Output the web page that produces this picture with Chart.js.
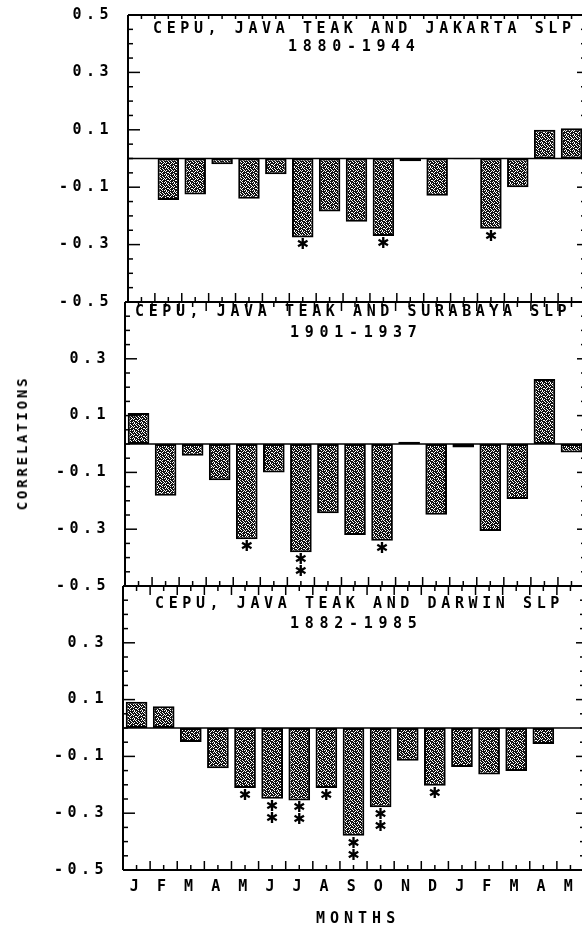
<!DOCTYPE html>
<html>
<head>
<meta charset="utf-8">
<script src="https://cdn.jsdelivr.net/npm/chart.js@4.4.1/dist/chart.umd.min.js"></script>
<style>
  html, body { margin: 0; padding: 0; background: #fff; }
  body { width: 582px; height: 929px; overflow: hidden; position: relative; }
  canvas { position: absolute; left: 0; top: 0; }
  .t { position: absolute; font: bold 15px "DejaVu Sans Mono"; letter-spacing: 4.6px;
       white-space: nowrap; line-height: 18px; color: #000; }
  .yr { letter-spacing: 5.7px; }
</style>
</head>
<body>
<canvas id="p1" width="590" height="929"></canvas>
<canvas id="p2" width="590" height="929"></canvas>
<canvas id="p3" width="590" height="929"></canvas>

<div class="t" style="left:153px;top:19px">CEPU, JAVA TEAK AND JAKARTA SLP</div>
<div class="t yr" style="left:288px;top:37px">1880-1944</div>
<div class="t" style="left:135px;top:302px">CEPU, JAVA TEAK AND SURABAYA SLP</div>
<div class="t yr" style="left:290px;top:323px">1901-1937</div>
<div class="t" style="left:155px;top:594px">CEPU, JAVA TEAK AND DARWIN SLP</div>
<div class="t yr" style="left:290px;top:614px">1882-1985</div>
<div class="t" style="left:316px;top:909px;letter-spacing:5px">MONTHS</div>
<div class="t" style="left:22px;top:443px;font-size:14px;letter-spacing:2.8px;transform:translate(-50%,-50%) rotate(-90deg)">CORRELATIONS</div>

<script>
// months Jan of one year to May of the next
const months = ['J','F','M','A','M','J','J','A','S','O','N','D','J','F','M','A','M'];

// correlations of Cepu teak with sea level pressure
const jakarta  = [0, -0.145, -0.125, -0.02, -0.14, -0.055, -0.275, -0.185, -0.22, -0.27, -0.01, -0.13, -0.003, -0.245, -0.10, 0.10, 0.105];
const surabaya = [0.109, -0.182, -0.041, -0.128, -0.335, -0.10, -0.381, -0.244, -0.32, -0.341, 0.008, -0.249, -0.012, -0.306, -0.194, 0.229, -0.03];
const darwin   = [0.092, 0.077, -0.049, -0.142, -0.211, -0.249, -0.255, -0.211, -0.379, -0.279, -0.115, -0.203, -0.137, -0.164, -0.151, -0.056, 0];

// number of significance asterisks under each bar
const starsJakarta  = [0,0,0,0,0,0,1,0,0,1,0,0,0,1,0,0,0];
const starsSurabaya = [0,0,0,0,1,0,2,0,0,1,0,0,0,0,0,0,0];
const starsDarwin   = [0,0,0,0,1,2,2,1,2,2,0,1,0,0,0,0,0];

// y tick labels shown on each panel
const labelsTop   = ['0.5', '0.3', '0.1', '-0.1', '-0.3', '-0.5'];
const labelsLower = ['0.3', '0.1', '-0.1', '-0.3', '-0.5'];

const H = 929, W = 590;
const mono = '"DejaVu Sans Mono", monospace';

// halftone fill like the old plotter shading
function shade(ctx) {
  const rows = [
    '11011010',
    '01101111',
    '10110101',
    '11101011',
    '01011110',
    '10111011',
    '11010101',
    '01111101'
  ];
  const c = document.createElement('canvas');
  c.width = 8; c.height = 8;
  const g = c.getContext('2d');
  g.fillStyle = '#fff'; g.fillRect(0, 0, 8, 8);
  g.fillStyle = '#111';
  rows.forEach((r, j) => [...r].forEach((b, i) => { if (b === '1') g.fillRect(i, j, 1, 1); }));
  return ctx.createPattern(c, 'repeat');
}

function seg(ctx, x1, y1, x2, y2) {
  ctx.beginPath(); ctx.moveTo(x1, y1); ctx.lineTo(x2, y2); ctx.stroke();
}

const frame = {
  id: 'frame',
  beforeDraw(chart) { chart.ctx.letterSpacing = '4.5px'; },
  afterDraw(chart, args, o) {
    const { ctx, chartArea: a, scales: { x, y } } = chart;
    ctx.save();
    ctx.letterSpacing = '0px';
    ctx.strokeStyle = '#000';
    ctx.lineWidth = 2;
    seg(ctx, a.left, a.top, a.left, a.bottom);
    seg(ctx, a.left, a.top, a.right, a.top);
    seg(ctx, a.left, a.bottom, a.right, a.bottom);

    // y ticks every 0.05, long at labelled values
    ctx.lineWidth = 1.5;
    for (let k = -10; k <= 10; k++) {
      const py = y.getPixelForValue(k / 20);
      const major = Math.abs(k) % 4 === 2;
      seg(ctx, a.left, py, a.left + (major ? 12 : 5), py);
      seg(ctx, a.right, py, a.right - (major ? 8 : 4), py);
    }
    // x ticks at category centres and edges
    for (let i = 0; i <= 34; i++) {
      const px = x.getPixelForValue(-0.5 + i / 2);
      const len = i % 2 === 0 ? 9 : 5;
      seg(ctx, px, a.bottom, px, a.bottom - len);
      seg(ctx, px, a.top, px, a.top + (o.topTicks ? len : 4));
    }
    // zero line
    ctx.lineWidth = 1.5;
    const y0 = y.getPixelForValue(0);
    seg(ctx, a.left, y0, a.right, y0);

    // asterisks
    const vals = chart.data.datasets[0].data;
    ctx.fillStyle = '#000';
    ctx.font = 'bold 15px "DejaVu Sans"';
    ctx.textAlign = 'center';
    ctx.textBaseline = 'middle';
    o.stars.forEach((n, i) => {
      for (let j = 0; j < n; j++) {
        ctx.fillText('\u2731', x.getPixelForValue(i), y.getPixelForValue(vals[i]) + 8 + j * 12);
      }
    });
    ctx.restore();
  }
};

function panel(id, values, stars, labels, box) {
  const el = document.getElementById(id);
  const ctx = el.getContext('2d');
  return new Chart(ctx, {
    type: 'bar',
    data: {
      labels: months,
      datasets: [{
        data: values,
        backgroundColor: shade(ctx),
        borderColor: '#000',
        borderWidth: 2,
        borderSkipped: false,
        barPercentage: 0.8,
        categoryPercentage: 1
      }]
    },
    options: {
      responsive: false,
      animation: false,
      devicePixelRatio: 1,
      layout: { padding: { left: 0, right: W - box.right, top: box.top, bottom: box.months ? 0 : H - box.bottom } },
      scales: {
        x: {
          grid: { display: false, drawTicks: false },
          border: { display: false },
          ticks: {
            display: box.months,
            color: '#000',
            padding: 8,
            font: { family: mono, size: 15, weight: 'bold' }
          },
          afterFit: (s) => {
            s.height = box.months ? H - box.bottom : 0;
            s.paddingLeft = 0; s.paddingRight = 0;
          }
        },
        y: {
          min: -0.5,
          max: 0.5,
          grid: { display: false, drawTicks: false },
          border: { display: false },
          ticks: {
            stepSize: 0.1,
            autoSkip: false,
            color: '#000',
            padding: 15,
            font: { family: mono, size: 15, weight: 'bold' },
            callback: (v) => { const s = Number(v).toFixed(1); return labels.includes(s) ? s : ''; }
          },
          afterFit: (s) => {
            s.width = box.left;
            s.paddingTop = 0; s.paddingBottom = 0;
          }
        }
      },
      plugins: {
        legend: { display: false },
        tooltip: { enabled: false },
        frame: { stars: stars, topTicks: box.topTicks }
      }
    },
    plugins: [frame]
  });
}

panel('p1', jakarta, starsJakarta, labelsTop, { left: 128, right: 585, top: 15, bottom: 302, months: false, topTicks: false });
panel('p2', surabaya, starsSurabaya, labelsLower, { left: 125, right: 585, top: 302, bottom: 586, months: false, topTicks: true });
panel('p3', darwin, starsDarwin, labelsLower, { left: 123, right: 584, top: 586, bottom: 870, months: true, topTicks: true });
</script>
</body>
</html>
